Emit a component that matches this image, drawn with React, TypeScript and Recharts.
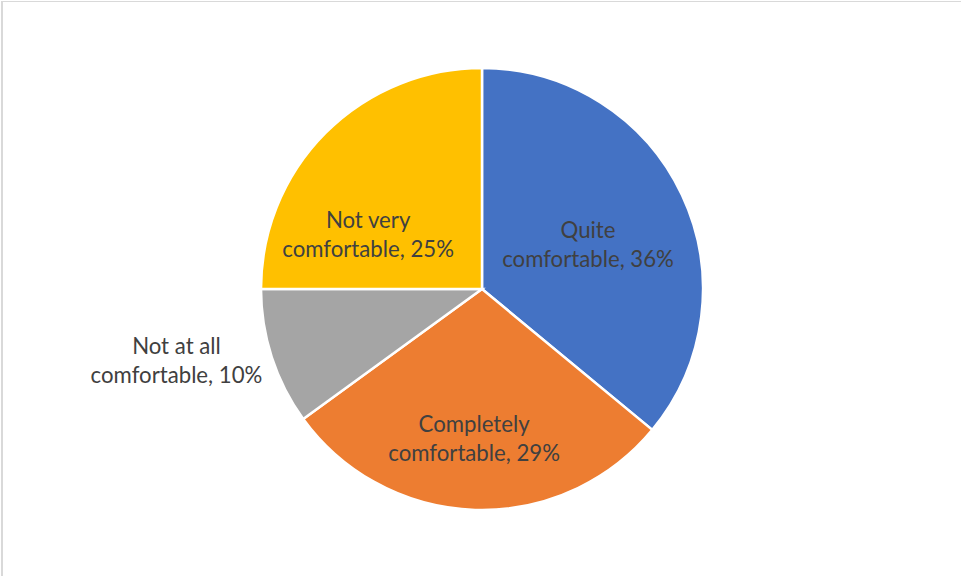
import React from "react";
import { PieChart, Pie, Cell } from "recharts";

const categories = [
  ["Quite", "comfortable, 36%"],
  ["Completely", "comfortable, 29%"],
  ["Not at all", "comfortable, 10%"],
  ["Not very", "comfortable, 25%"],
];
const names = [
  "Quite comfortable",
  "Completely comfortable",
  "Not at all comfortable",
  "Not very comfortable",
];
const values = [36, 29, 10, 25];
const colors = ["#4472C4", "#ED7D31", "#A5A5A5", "#FFC000"];

// label placement (radius factor, angle shift in degrees) per slice
const labelPlace = [
  { r: 0.52, da: -2.5 },
  { r: 0.68, da: -1.2 },
  { r: 1.42, da: -4.8 },
  { r: 0.57, da: 19.7 },
];

const data = names.map((name, i) => ({ name, value: values[i] }));

const RAD = Math.PI / 180;

const renderLabel = (props: any) => {
  const { cx, cy, midAngle, outerRadius, index } = props;
  const p = labelPlace[index];
  const a = (midAngle + p.da) * RAD;
  const x = cx + outerRadius * p.r * Math.cos(a);
  const y = cy - outerRadius * p.r * Math.sin(a);
  const lines = categories[index];
  return (
    <text
      x={x}
      y={y}
      textAnchor="middle"
      fill="#404040"
      fontSize={22.2}
      fontFamily="Lato, 'Noto Sans', sans-serif"
    >
      <tspan x={x} dy={-7}>{lines[0]}</tspan>
      <tspan x={x} dy={29}>{lines[1]}</tspan>
    </text>
  );
};

export default function App() {
  return (
    <div
      style={{
        position: "absolute",
        left: 0,
        top: 0,
        width: 961,
        height: 576,
        background: "#fff",
        overflow: "hidden",
      }}
    >
      <div
        style={{
          position: "absolute",
          left: 1,
          top: 1,
          width: 1200,
          height: 800,
          borderTop: "1px solid #d9d9d9",
          borderLeft: "2px solid #d9d9d9",
        }}
      />
      <div style={{ position: "absolute", left: 0, top: 0 }}>
        <PieChart
          width={961}
          height={576}
          margin={{ top: 0, right: 0, bottom: 0, left: 0 }}
        >
          <Pie
            data={data}
            dataKey="value"
            nameKey="name"
            cx={482}
            cy={289}
            outerRadius={221}
            startAngle={90}
            endAngle={-270}
            stroke="#ffffff"
            strokeWidth={2.5}
            label={renderLabel}
            labelLine={false}
            isAnimationActive={false}
          >
            {data.map((d, i) => (
              <Cell key={d.name} fill={colors[i]} />
            ))}
          </Pie>
        </PieChart>
      </div>
    </div>
  );
}
